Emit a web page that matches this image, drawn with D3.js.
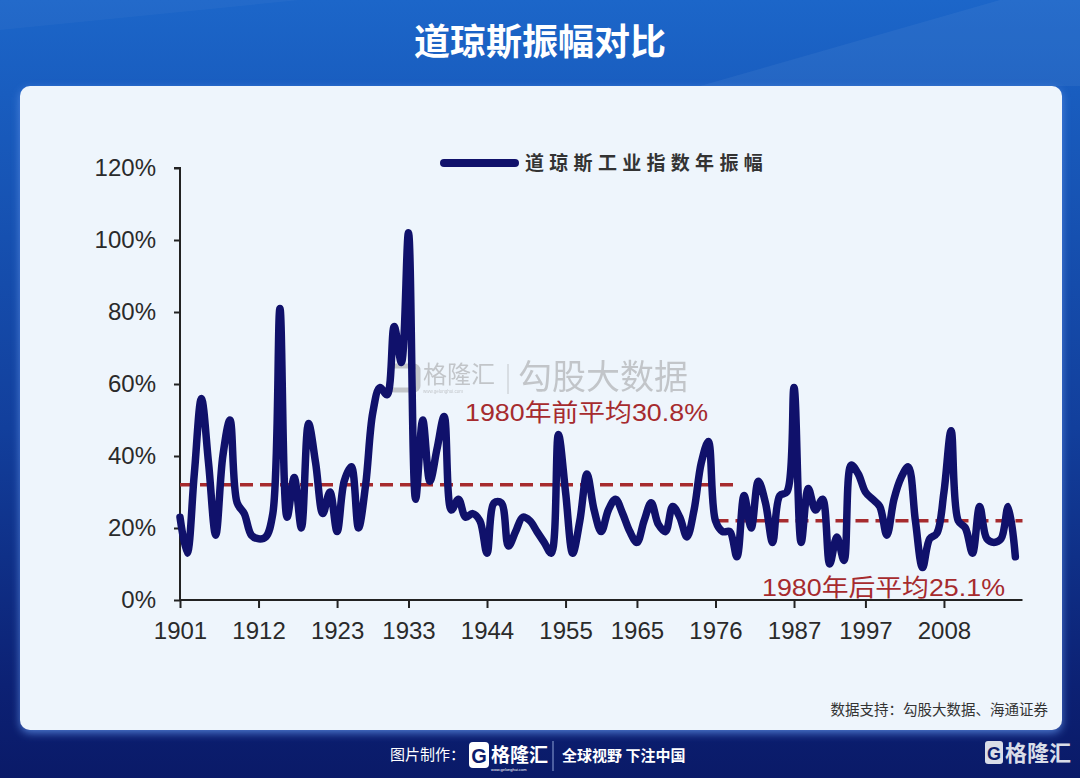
<!DOCTYPE html>
<html>
<head>
<meta charset="utf-8">
<script src="https://cdn.jsdelivr.net/npm/d3@7"></script>
<style>
  html, body { margin: 0; padding: 0; background: #0b1c6c; }
  svg { display: block; }
</style>
</head>
<body>
<svg id="chart" width="1080" height="778"></svg>
<script>
// ---------------- DATA ----------------
const startYear = 1901;
const amplitude = [
  23, 13, 35, 56, 38, 18, 40, 50, 27, 24,      // 1901-1910
  18, 17, 17.5, 24, 81, 23, 34, 20, 49, 38,    // 1911-1920
  24, 30, 19, 33, 37, 20, 32, 52, 59, 57,      // 1921-1930
  76, 66, 102, 28, 50, 33, 42, 51, 25, 28,     // 1931-1940
  23, 24, 22, 13, 27, 27, 15, 19, 23, 22,      // 1941-1950
  19, 16, 13, 46, 30, 13, 22, 35, 25, 19,      // 1951-1960
  25, 28, 24, 19, 16, 22, 27, 21, 19, 26,      // 1961-1970
  23, 17.5, 25, 38, 44, 22, 19, 19, 12, 29,    // 1971-1980
  20, 33, 27, 16, 29, 30, 59, 16, 31, 25,      // 1981-1990
  28, 10, 17.5, 11, 37.5, 35, 30, 28, 26, 18,  // 1991-2000
  28, 34, 37, 22, 9, 17, 18.5, 30, 47, 22,     // 2001-2010
  20, 13, 26, 17, 16, 17, 26, 12               // 2011-2018
];
const years = amplitude.map((_, i) => startYear + i);

const xTickLabels = ["1901", "1912", "1923", "1933", "1944", "1955", "1965", "1976", "1987", "1997", "2008"];
const yTickValues = [0, 20, 40, 60, 80, 100, 120];

// average lines as drawn: [fromYear, toYear, level]
const avgFrom  = [1901, 1976];
const avgTo    = [1979, 2019];
const avgLevel = [32, 22];
const avgLabels = ["1980年前平均30.8%", "1980年后平均25.1%"];

const seriesName = "道琼斯工业指数年振幅";
const titleText = "道琼斯振幅对比";
const sourceText = "数据支持：勾股大数据、海通证券";

// ---------------- DRAW ----------------
const svg = d3.select("#chart");
const W = 1080, H = 778;
const defs = svg.append("defs");

const bg = defs.append("linearGradient").attr("id", "bg").attr("x1", 0).attr("y1", 0).attr("x2", 0).attr("y2", 1);
bg.append("stop").attr("offset", "0%").attr("stop-color", "#1c66c9");
bg.append("stop").attr("offset", "12%").attr("stop-color", "#195dbf");
bg.append("stop").attr("offset", "55%").attr("stop-color", "#123f9c");
bg.append("stop").attr("offset", "88%").attr("stop-color", "#0c2174");
bg.append("stop").attr("offset", "100%").attr("stop-color", "#0a1a68");
svg.append("rect").attr("width", W).attr("height", H).attr("fill", "url(#bg)");
// subtle streaks at top
svg.append("path").attr("d", "M700,86 L1000,0 L1080,0 L1080,86 Z").attr("fill", "#ffffff").attr("opacity", 0.05);
svg.append("path").attr("d", "M0,30 L300,0 L0,0 Z").attr("fill", "#ffffff").attr("opacity", 0.03);

const glow = defs.append("filter").attr("id", "glow").attr("x", "-5%").attr("y", "-5%").attr("width", "110%").attr("height", "115%");
glow.append("feDropShadow").attr("dx", 0).attr("dy", 3).attr("stdDeviation", 4).attr("flood-color", "#5b8fe6").attr("flood-opacity", 0.8);

svg.append("rect").attr("x", 20).attr("y", 86).attr("width", 1042).attr("height", 644)
  .attr("rx", 10).attr("fill", "#eef5fc").attr("filter", "url(#glow)");

// title
svg.append("text").attr("x", 540).attr("y", 55).attr("text-anchor", "middle")
  .attr("font-family", "'Noto Sans CJK SC', sans-serif").attr("font-weight", 700)
  .attr("font-size", 36).attr("fill", "#ffffff").text(titleText);

// scales
const plotL = 180, plotR = 1022.5, plotT = 168, plotB = 600;
const x = d3.scaleLinear().domain([startYear, startYear + amplitude.length]).range([plotL, plotR]);
const y = d3.scaleLinear().domain([0, 120]).range([plotB, plotT]);

// watermark
const wm = svg.append("g").attr("fill", "#8d8d8d").attr("opacity", 0.45);
wm.append("rect").attr("x", 390).attr("y", 366).attr("width", 28).attr("height", 24).attr("rx", 4)
  .attr("fill", "none").attr("stroke", "#8d8d8d").attr("stroke-width", 5);
wm.append("text").attr("x", 423).attr("y", 383).attr("font-family", "'Noto Sans CJK SC', sans-serif")
  .attr("font-size", 24).text("格隆汇");
wm.append("text").attr("x", 423).attr("y", 393).attr("font-family", "'Liberation Sans', Arial, sans-serif")
  .attr("font-size", 4.5).text("www.gelonghui.com");
wm.append("line").attr("x1", 508).attr("x2", 508).attr("y1", 364).attr("y2", 394).attr("stroke", "#8d8d8d").attr("stroke-width", 1);
wm.append("text").attr("x", 518).attr("y", 389).attr("font-family", "'Noto Sans CJK SC', sans-serif")
  .attr("font-size", 34).text("勾股大数据");

// axes
const axisFont = "'Liberation Sans', Arial, sans-serif";
const yAxis = svg.append("g").attr("transform", `translate(${plotL},0)`)
  .call(d3.axisLeft(y).tickValues(yTickValues).tickSize(6).tickPadding(18).tickFormat(d => d + "%"));
yAxis.selectAll("path, line").attr("stroke", "#222").attr("stroke-width", 2);
yAxis.select(".domain").attr("d", `M-6,${plotT}H0V${plotB}`);
yAxis.selectAll("text").attr("font-family", axisFont).attr("font-size", 24).attr("fill", "#2a2a2a");

const xAxis = svg.append("g").attr("transform", `translate(0,${plotB})`)
  .call(d3.axisBottom(x).tickValues(xTickLabels.map(Number)).tickSize(8).tickPadding(14).tickFormat(d => String(d)));
xAxis.selectAll("path, line").attr("stroke", "#222").attr("stroke-width", 2);
xAxis.select(".domain").attr("d", `M${plotL},0H${plotR}`);
xAxis.selectAll("text").attr("font-family", axisFont).attr("font-size", 24).attr("fill", "#2a2a2a");

// average dashed lines
const avgColor = "#a62b2e";
avgLevel.forEach((lv, i) => {
  svg.append("line")
    .attr("x1", x(avgFrom[i])).attr("x2", x(avgTo[i]))
    .attr("y1", y(lv)).attr("y2", y(lv))
    .attr("stroke", avgColor).attr("stroke-width", 3.5)
    .attr("stroke-dasharray", "13,7");
});

// main series
const line = d3.line()
  .x((d, i) => x(years[i]))
  .y(d => y(d))
  .curve(d3.curveCatmullRom.alpha(0.5));
svg.append("path").datum(amplitude).attr("d", line)
  .attr("fill", "none").attr("stroke", "#10116b").attr("stroke-width", 7.5)
  .attr("stroke-linejoin", "round").attr("stroke-linecap", "round");

// average labels
const labelPos = [[465, 421], [762, 596]];
avgLabels.forEach((t, i) => {
  svg.append("text").attr("x", labelPos[i][0]).attr("y", labelPos[i][1])
    .attr("font-family", "'Liberation Sans', 'Noto Sans CJK SC', sans-serif")
    .attr("font-size", 24).attr("fill", avgColor)
    .attr("textLength", 243).attr("lengthAdjust", "spacingAndGlyphs")
    .text(t);
});

// legend
svg.append("line").attr("x1", 444).attr("x2", 515).attr("y1", 163).attr("y2", 163)
  .attr("stroke", "#10116b").attr("stroke-width", 8).attr("stroke-linecap", "round");
svg.append("text").attr("x", 525).attr("y", 170)
  .attr("font-family", "'Noto Sans CJK SC', sans-serif").attr("font-weight", 700)
  .attr("font-size", 19).attr("fill", "#333").attr("letter-spacing", 5.3).text(seriesName);

// source
svg.append("text").attr("x", 1048).attr("y", 715).attr("text-anchor", "end")
  .attr("font-family", "'Noto Sans CJK SC', sans-serif").attr("font-size", 14.5)
  .attr("fill", "#333").text(sourceText);

// footer
const ff = "'Noto Sans CJK SC', sans-serif";
svg.append("text").attr("x", 390).attr("y", 760).attr("font-family", ff).attr("font-size", 15)
  .attr("fill", "#ffffff").text("图片制作：");
svg.append("rect").attr("x", 469).attr("y", 742).attr("width", 20).attr("height", 26).attr("rx", 4).attr("fill", "#ffffff");
svg.append("text").attr("x", 479).attr("y", 763).attr("text-anchor", "middle").attr("font-family", axisFont)
  .attr("font-weight", 700).attr("font-size", 20).attr("fill", "#0b1c6c").text("G");
svg.append("text").attr("x", 491).attr("y", 762).attr("font-family", ff).attr("font-weight", 700)
  .attr("font-size", 19).attr("fill", "#ffffff").text("格隆汇");
svg.append("text").attr("x", 491).attr("y", 771).attr("font-family", axisFont)
  .attr("font-size", 4).attr("fill", "#ffffff").text("www.gelonghui.com");
svg.append("line").attr("x1", 553).attr("x2", 553).attr("y1", 741).attr("y2", 771).attr("stroke", "#8fa3d6").attr("stroke-width", 1);
svg.append("text").attr("x", 562).attr("y", 761).attr("font-family", ff).attr("font-weight", 700)
  .attr("font-size", 15).attr("fill", "#ffffff").text("全球视野 下注中国");
svg.append("rect").attr("x", 985).attr("y", 741).attr("width", 18).attr("height", 23).attr("rx", 3).attr("fill", "#d9dde8");
svg.append("text").attr("x", 994).attr("y", 760).attr("text-anchor", "middle").attr("font-family", axisFont)
  .attr("font-weight", 700).attr("font-size", 18).attr("fill", "#0b1c6c").text("G");
svg.append("text").attr("x", 1005).attr("y", 761).attr("font-family", ff).attr("font-weight", 700)
  .attr("font-size", 22).attr("fill", "#d9dde8").text("格隆汇");
</script>
</body>
</html>
